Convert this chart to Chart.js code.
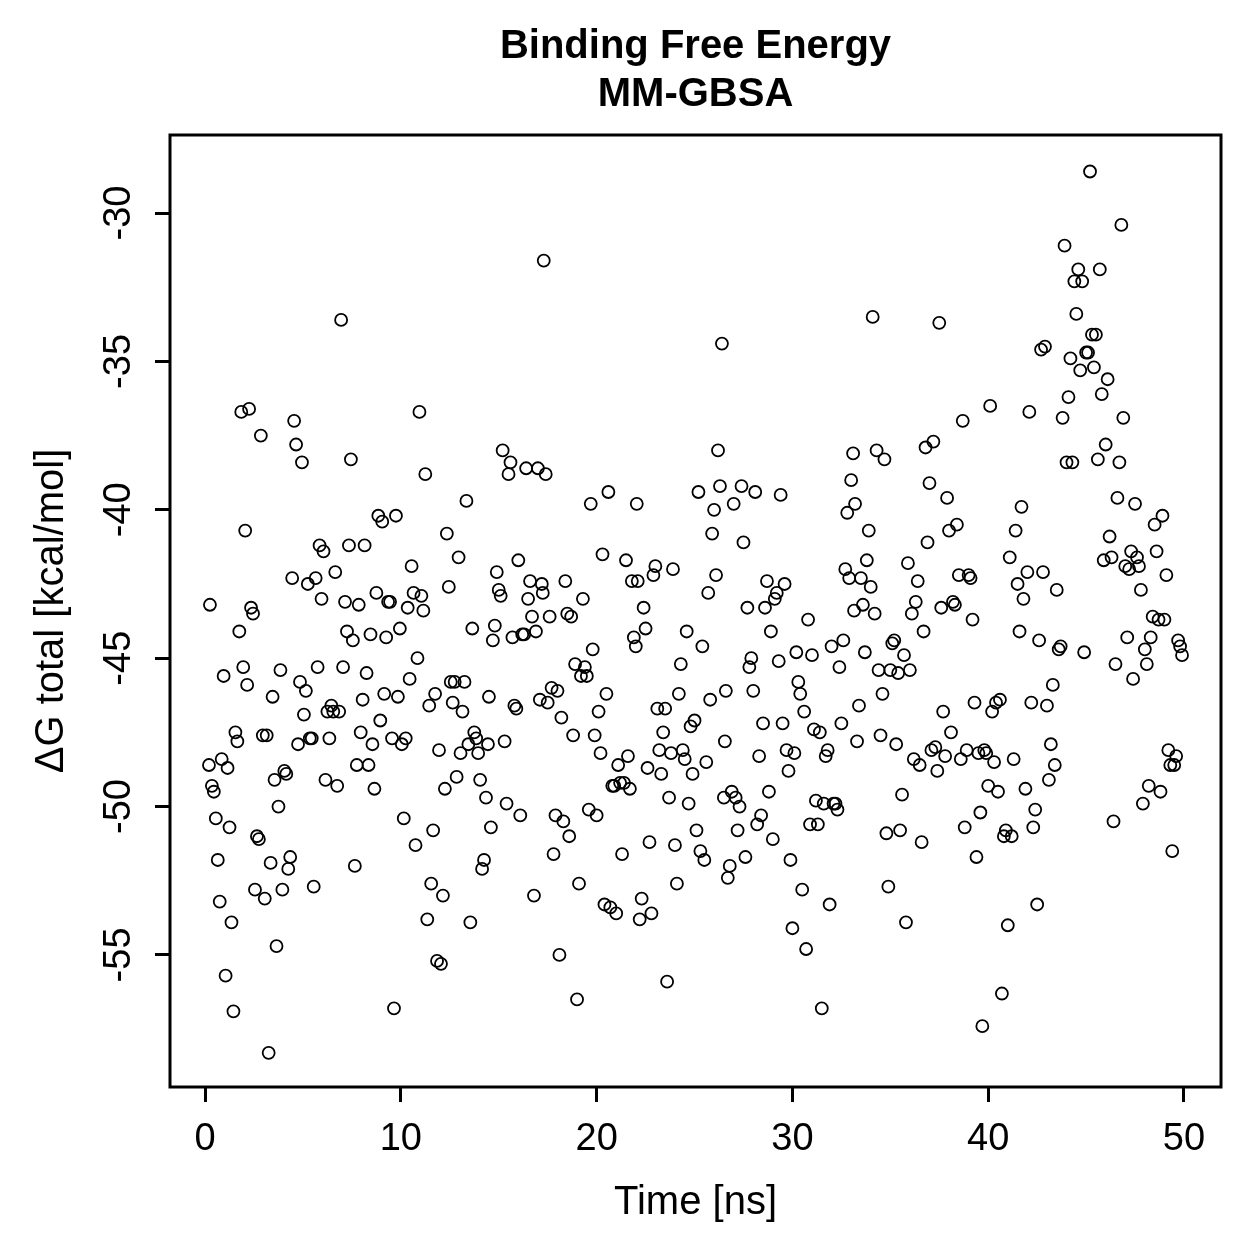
<!DOCTYPE html>
<html>
<head>
<meta charset="utf-8">
<title>Binding Free Energy - MM-GBSA</title>
<script src="https://cdn.jsdelivr.net/npm/chart.js@4.4.1/dist/chart.umd.min.js"></script>
<style>
  html, body { margin: 0; padding: 0; background: #ffffff; }
  #wrap { width: 1259px; height: 1259px; }
</style>
</head>
<body>
<div id="wrap"><canvas id="chart" width="1259" height="1259"></canvas></div>
<script>
// values (time in ns, dG in kcal/mol)
const timeNs = [
  0.2, 0.25, 0.35, 0.45, 0.55, 0.65, 0.75, 0.85, 0.95, 1.05,
  1.15, 1.25, 1.35, 1.45, 1.55, 1.65, 1.75, 1.85, 1.95, 2.05,
  2.15, 2.25, 2.35, 2.45, 2.55, 2.65, 2.75, 2.85, 2.95, 3.05,
  3.15, 3.25, 3.35, 3.45, 3.55, 3.65, 3.75, 3.85, 3.95, 4.05,
  4.15, 4.25, 4.35, 4.45, 4.55, 4.65, 4.75, 4.85, 4.95, 5.05,
  5.15, 5.25, 5.35, 5.45, 5.55, 5.65, 5.75, 5.85, 5.95, 6.05,
  6.15, 6.25, 6.35, 6.45, 6.55, 6.65, 6.75, 6.85, 6.95, 7.05,
  7.15, 7.25, 7.35, 7.45, 7.55, 7.65, 7.75, 7.85, 7.95, 8.05,
  8.15, 8.25, 8.35, 8.45, 8.55, 8.65, 8.75, 8.85, 8.95, 9.05,
  9.15, 9.25, 9.35, 9.45, 9.55, 9.65, 9.75, 9.85, 9.95, 10.05,
  10.15, 10.25, 10.35, 10.45, 10.55, 10.65, 10.75, 10.85, 10.95, 11.05,
  11.15, 11.25, 11.35, 11.45, 11.55, 11.65, 11.75, 11.85, 11.95, 12.05,
  12.15, 12.25, 12.35, 12.45, 12.55, 12.65, 12.75, 12.85, 12.95, 13.05,
  13.15, 13.25, 13.35, 13.45, 13.55, 13.65, 13.75, 13.85, 13.95, 14.05,
  14.15, 14.25, 14.35, 14.45, 14.5, 14.6, 14.7, 14.8, 14.9, 15.0,
  15.1, 15.2, 15.3, 15.4, 15.5, 15.6, 15.7, 15.8, 15.9, 16.0,
  16.1, 16.2, 16.3, 16.4, 16.5, 16.6, 16.7, 16.8, 16.9, 17.0,
  17.1, 17.2, 17.25, 17.3, 17.4, 17.5, 17.6, 17.7, 17.8, 17.9,
  18.0, 18.1, 18.2, 18.3, 18.4, 18.5, 18.6, 18.7, 18.8, 18.9,
  19.0, 19.1, 19.2, 19.3, 19.4, 19.5, 19.6, 19.7, 19.8, 19.9,
  20.0, 20.1, 20.2, 20.3, 20.4, 20.5, 20.6, 20.7, 20.8, 20.9,
  21.0, 21.1, 21.2, 21.3, 21.4, 21.5, 21.6, 21.7, 21.8, 21.9,
  22.0, 22.05, 22.1, 22.2, 22.3, 22.4, 22.5, 22.6, 22.7, 22.8,
  22.9, 23.0, 23.1, 23.2, 23.3, 23.4, 23.5, 23.6, 23.7, 23.8,
  23.9, 24.0, 24.1, 24.2, 24.3, 24.4, 24.5, 24.6, 24.7, 24.8,
  24.9, 25.0, 25.1, 25.2, 25.3, 25.4, 25.5, 25.6, 25.7, 25.8,
  25.9, 26.0, 26.1, 26.2, 26.3, 26.4, 26.5, 26.55, 26.6, 26.7,
  26.8, 26.9, 27.0, 27.1, 27.2, 27.3, 27.4, 27.5, 27.6, 27.7,
  27.8, 27.9, 28.0, 28.1, 28.2, 28.3, 28.4, 28.5, 28.6, 28.7,
  28.8, 28.9, 29.0, 29.1, 29.2, 29.3, 29.4, 29.5, 29.6, 29.7,
  29.8, 29.9, 30.0, 30.1, 30.2, 30.3, 30.4, 30.5, 30.6, 30.7,
  30.8, 30.9, 31.0, 31.1, 31.2, 31.3, 31.4, 31.5, 31.6, 31.7,
  31.8, 31.9, 32.0, 32.1, 32.2, 32.3, 32.4, 32.5, 32.6, 32.7,
  32.8, 32.9, 33.0, 33.1, 33.15, 33.2, 33.3, 33.4, 33.5, 33.6,
  33.7, 33.8, 33.9, 34.0, 34.1, 34.2, 34.3, 34.4, 34.5, 34.6,
  34.7, 34.8, 34.9, 35.0, 35.1, 35.2, 35.3, 35.4, 35.5, 35.6,
  35.7, 35.8, 35.9, 36.0, 36.1, 36.2, 36.3, 36.4, 36.5, 36.6,
  36.7, 36.8, 36.9, 37.0, 37.1, 37.2, 37.3, 37.4, 37.5, 37.6,
  37.7, 37.8, 37.9, 38.0, 38.1, 38.2, 38.3, 38.4, 38.5, 38.6,
  38.7, 38.8, 38.9, 39.0, 39.1, 39.2, 39.3, 39.4, 39.5, 39.6,
  39.7, 39.8, 39.9, 40.0, 40.1, 40.2, 40.3, 40.4, 40.5, 40.6,
  40.7, 40.8, 40.9, 41.0, 41.1, 41.2, 41.3, 41.4, 41.5, 41.6,
  41.7, 41.8, 41.9, 42.0, 42.1, 42.2, 42.3, 42.4, 42.5, 42.6,
  42.7, 42.8, 42.9, 43.0, 43.1, 43.2, 43.3, 43.4, 43.5, 43.6,
  43.7, 43.8, 43.9, 44.0, 44.1, 44.2, 44.3, 44.4, 44.5, 44.6,
  44.7, 44.8, 44.9, 45.0, 45.1, 45.2, 45.3, 45.4, 45.5, 45.6,
  45.7, 45.8, 45.9, 46.0, 46.1, 46.2, 46.3, 46.4, 46.5, 46.6,
  46.7, 46.8, 46.9, 47.0, 47.1, 47.2, 47.3, 47.4, 47.5, 47.6,
  47.7, 47.8, 47.9, 48.0, 48.1, 48.2, 48.3, 48.4, 48.5, 48.6,
  48.7, 48.8, 48.9, 49.0, 49.1, 49.2, 49.3, 49.4, 49.5, 49.6,
  49.7, 49.8, 49.9
];

const deltaG = [
  -48.6, -43.2, -49.3, -49.5, -50.4, -51.8, -53.2, -48.4, -45.6, -55.7,
  -48.7, -50.7, -53.9, -56.9, -47.5, -47.8, -44.1, -36.7, -45.3, -40.7,
  -45.9, -36.6, -43.3, -43.5, -52.8, -51.0, -51.1, -37.5, -47.6, -53.1,
  -47.6, -58.3, -51.9, -46.3, -49.1, -54.7, -50.0, -45.4, -52.8, -48.8,
  -48.9, -52.1, -51.7, -42.3, -37.0, -37.8, -47.9, -45.8, -38.4, -46.9,
  -46.1, -42.5, -47.7, -47.7, -52.7, -42.3, -45.3, -41.2, -43.0, -41.4,
  -49.1, -46.8, -47.7, -46.6, -46.8, -42.1, -49.3, -46.8, -33.6, -45.3,
  -43.1, -44.1, -41.2, -38.3, -44.4, -52.0, -48.6, -43.2, -47.5, -46.4,
  -41.2, -45.5, -48.6, -44.2, -47.9, -49.4, -42.8, -40.2, -47.1, -40.4,
  -46.2, -44.3, -43.1, -43.1, -47.7, -56.8, -40.2, -46.3, -44.0, -47.9,
  -50.4, -47.7, -43.3, -45.7, -41.9, -42.8, -51.3, -45.0, -36.7, -42.9,
  -43.4, -38.8, -53.8, -46.6, -52.6, -50.8, -46.2, -55.2, -48.1, -55.3,
  -53.0, -49.4, -40.8, -42.6, -45.8, -46.5, -45.8, -49.0, -41.6, -48.2,
  -46.8, -45.8, -39.7, -47.9, -53.9, -44.0, -47.5, -47.7, -48.2, -49.1,
  -52.1, -51.8, -49.7, -47.9, -46.3, -50.7, -44.4, -43.9, -42.1, -42.7,
  -42.9, -38.0, -47.8, -49.9, -38.8, -38.4, -44.3, -46.6, -46.7, -41.7,
  -50.3, -44.2, -44.2, -38.6, -43.0, -42.4, -43.6, -53.0, -44.1, -38.6,
  -46.4, -42.5, -42.8, -31.6, -38.8, -46.5, -43.6, -46.0, -51.6, -50.3,
  -46.1, -55.0, -47.0, -50.5, -42.4, -43.5, -51.0, -43.6, -47.6, -45.2,
  -56.5, -52.6, -45.6, -43.0, -45.3, -45.6, -50.1, -39.8, -44.7, -47.6,
  -50.3, -46.8, -48.2, -41.5, -53.3, -46.2, -39.4, -53.4, -49.3, -49.3,
  -53.6, -48.6, -49.2, -51.6, -49.2, -41.7, -48.3, -49.4, -42.4, -44.3,
  -44.6, -39.8, -42.4, -53.8, -53.1, -43.3, -44.0, -48.7, -51.2, -53.6,
  -42.2, -41.9, -46.7, -48.1, -48.9, -47.5, -46.7, -55.9, -49.7, -48.2,
  -42.0, -51.3, -52.6, -46.2, -45.2, -48.1, -48.4, -44.1, -49.9, -47.3,
  -48.9, -47.1, -50.8, -39.4, -51.5, -44.6, -51.8, -48.5, -42.8, -46.4,
  -40.8, -40.0, -42.2, -38.0, -39.2, -34.4, -49.7, -47.8, -46.1, -52.4,
  -52.0, -49.5, -39.8, -49.7, -50.8, -50.0, -39.2, -41.1, -51.7, -43.3,
  -45.3, -45.0, -46.1, -39.4, -50.6, -48.3, -50.3, -47.2, -43.3, -42.4,
  -49.5, -44.1, -51.1, -43.0, -42.8, -45.1, -39.5, -47.2, -42.5, -48.1,
  -48.8, -51.8, -54.1, -48.2, -44.8, -45.8, -46.2, -52.8, -46.8, -54.8,
  -43.7, -50.6, -44.9, -47.4, -49.8, -50.6, -47.5, -56.8, -49.9, -48.3,
  -48.1, -53.3, -44.6, -49.9, -49.9, -50.1, -45.3, -47.2, -44.4, -42.0,
  -40.1, -42.3, -39.0, -38.1, -43.4, -39.8, -47.8, -46.6, -42.3, -43.2,
  -44.8, -41.7, -40.7, -42.6, -33.5, -43.5, -38.0, -45.4, -47.6, -46.2,
  -38.3, -50.9, -52.7, -45.4, -44.5, -44.4, -47.9, -45.5, -50.8, -49.6,
  -44.9, -53.9, -41.8, -45.4, -43.5, -48.4, -43.1, -42.4, -48.6, -51.2,
  -44.1, -37.9, -41.1, -39.1, -48.1, -37.7, -48.0, -48.8, -33.7, -43.3,
  -46.8, -48.3, -39.6, -40.7, -47.5, -43.1, -43.2, -40.5, -42.2, -48.4,
  -37.0, -50.7, -48.1, -42.2, -42.3, -43.7, -46.5, -51.7, -48.2, -50.2,
  -57.4, -48.1, -48.2, -49.3, -36.5, -46.8, -48.5, -46.5, -49.5, -46.4,
  -56.3, -51.0, -50.8, -54.0, -41.6, -51.0, -48.4, -40.7, -42.5, -44.1,
  -39.9, -43.0, -49.4, -42.1, -36.7, -46.5, -50.7, -50.1, -53.3, -44.4,
  -34.6, -42.1, -34.5, -46.6, -49.1, -47.9, -45.9, -48.6, -42.7, -44.7,
  -44.6, -36.9, -31.1, -38.4, -36.2, -34.9, -38.4, -32.3, -33.4, -31.9,
  -35.3, -32.3, -44.8, -34.7, -34.7, -28.6, -34.1, -35.2, -34.1, -38.3,
  -31.9, -36.1, -41.7, -37.8, -35.6, -40.9, -41.6, -50.5, -45.2, -39.6,
  -38.4, -30.4, -36.9, -41.9, -44.3, -42.0, -41.4, -45.7, -39.8, -41.6,
  -41.9, -42.7, -49.9, -44.7, -45.2, -49.3, -44.3, -43.6, -40.5, -41.4,
  -43.7, -49.5, -40.2, -43.7, -42.2, -48.1, -48.6, -51.5, -48.6, -48.3,
  -44.4, -44.6, -44.9
];

const xTickValues = [0, 10, 20, 30, 40, 50];
const yTickValues = [-55, -50, -45, -40, -35, -30];

const FONT = "'Liberation Sans', Arial, Helvetica, sans-serif";
const TICK_FONT = { family: FONT, size: 38, lineHeight: 1.2 };

// R-style closed box around the plot region
const plotBox = {
  id: "plotBox",
  afterDatasetsDraw(chart) {
    const { ctx, chartArea } = chart;
    ctx.save();
    ctx.strokeStyle = "#000";
    ctx.lineWidth = 3;
    ctx.strokeRect(
      chartArea.left,
      chartArea.top,
      chartArea.right - chartArea.left,
      chartArea.bottom - chartArea.top
    );
    ctx.restore();
  },
};

const points = timeNs.map((t, i) => ({ x: t, y: deltaG[i] }));

new Chart(document.getElementById("chart"), {
  type: "scatter",
  data: {
    datasets: [{
      data: points,
      pointStyle: "circle",
      pointRadius: 6,
      pointBorderWidth: 1.8,
      pointBorderColor: "#000",
      pointBackgroundColor: "rgba(0, 0, 0, 0)",
      pointHoverRadius: 6,
      showLine: false,
    }],
  },
  options: {
    responsive: false,
    animation: false,
    layout: { padding: { left: 0, right: 38, top: 0, bottom: 0 } },
    plugins: {
      legend: { display: false },
      tooltip: { enabled: false },
      title: {
        display: true,
        fullSize: false,
        text: ["Binding Free Energy", "MM-GBSA"],
        color: "#000",
        font: { family: FONT, size: 40, weight: "bold", lineHeight: 1.2 },
        padding: { top: 23, bottom: 16 },
      },
    },
    scales: {
      x: {
        type: "linear",
        min: -1.79,
        max: 51.89,
        afterBuildTicks: (scale) => {
          scale.ticks = xTickValues.map((v) => ({ value: v }));
        },
        afterFit: (scale) => {
          scale.height = 172;
        },
        grid: {
          drawOnChartArea: false,
          drawTicks: true,
          tickLength: 15,
          color: "#000",
          lineWidth: 3,
        },
        border: { display: false },
        ticks: {
          color: "#000",
          padding: 15,
          maxRotation: 0,
          autoSkip: false,
          font: TICK_FONT,
          callback: (v) => String(v),
        },
        title: {
          display: true,
          text: "Time [ns]",
          color: "#000",
          font: { family: FONT, size: 40, lineHeight: 1.2 },
          padding: { top: 0, bottom: 32 },
        },
      },
      y: {
        type: "linear",
        min: -59.45,
        max: -27.37,
        afterBuildTicks: (scale) => {
          scale.ticks = yTickValues.map((v) => ({ value: v }));
        },
        afterFit: (scale) => {
          scale.width = 170;
        },
        grid: {
          drawOnChartArea: false,
          drawTicks: true,
          tickLength: 15,
          color: "#000",
          lineWidth: 3,
        },
        border: { display: false },
        ticks: {
          color: "#000",
          padding: 8,
          minRotation: 90,
          maxRotation: 90,
          crossAlign: "center",
          autoSkip: false,
          font: TICK_FONT,
          callback: (v) => String(v),
        },
        title: {
          display: true,
          text: "ΔG total [kcal/mol]",
          color: "#000",
          font: { family: FONT, size: 40, lineHeight: 1.2 },
          padding: { top: 28, bottom: 0 },
        },
      },
    },
  },
  plugins: [plotBox],
});
</script>
</body>
</html>
